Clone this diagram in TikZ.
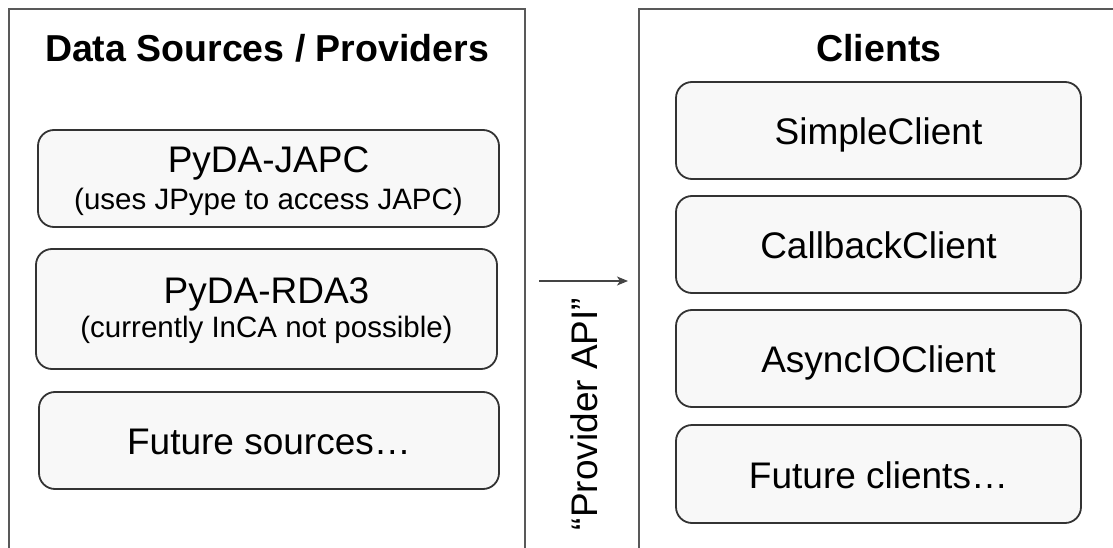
\documentclass[tikz,border=0pt]{standalone}
\usepackage{fontspec}
\setmainfont{Liberation Sans}
\usetikzlibrary{arrows.meta}
\definecolor{boxfill}{HTML}{F8F8F8}
\definecolor{boxline}{HTML}{333333}
\definecolor{frameline}{HTML}{595959}
\definecolor{arrowcol}{HTML}{444444}
\tikzset{
  frame/.style={draw=frameline, line width=1.5pt},
  item/.style={draw=boxline, fill=boxfill, line width=1.8pt, rounded corners=16pt, inner sep=0pt},
  itemone/.style={item, font=\fontsize{37}{37}\selectfont, text height=28pt, text depth=0pt},
  titletext/.style={font=\fontsize{37.5}{40}\selectfont\bfseries, inner sep=0pt, anchor=base},
  maintext/.style={font=\fontsize{37}{37}\selectfont, inner sep=0pt, anchor=base},
  subtext/.style={font=\fontsize{29.5}{30}\selectfont, inner sep=0pt, anchor=base},
  apiarrow/.style={draw=arrowcol, line width=1.5pt, -{Stealth[length=11pt,width=9pt,inset=3pt]}}
}
\begin{document}
\begin{tikzpicture}[x=1pt,y=-1pt]
\useasboundingbox (0,0) rectangle (1113,548);
% outer frames (open at the picture's edges)
\draw[frame] (9,560) -- (9,9) -- (525,9) -- (525,560);
\draw[frame] (639,560) -- (639,9) -- (1120,9);
% titles
\node[titletext] (ltitle) at (267,62) {Data Sources / Providers};
\node[titletext] (rtitle) at (879,62) {Clients};
% providers
\node[item, minimum width=461pt, minimum height=97pt] (japc) at (268.5,178.5) {};
\node[maintext] (japcA) at (268.5,173) {PyDA-JAPC};
\node[subtext] (japcB) at (268.5,210) {(uses JPype to access JAPC)};
\node[item, minimum width=461pt, minimum height=120pt] (rda) at (266.5,309) {};
\node[maintext] (rdaA) at (266.5,303) {PyDA-RDA3};
\node[subtext] (rdaB) at (266.5,337) {(currently InCA not possible)};
\node[itemone, minimum width=460pt, minimum height=97pt] (fsrc) at (269,440.5) {Future sources…};
% clients
\node[itemone, minimum width=405pt, minimum height=97pt] (simple) at (878.5,130.5) {SimpleClient};
\node[itemone, minimum width=405pt, minimum height=97pt] (callback) at (878.5,244.5) {CallbackClient};
\node[itemone, minimum width=405pt, minimum height=97pt] (async) at (878.5,358.5) {AsyncIOClient};
\node[itemone, minimum width=405pt, minimum height=98pt] (fcli) at (878.5,474) {Future clients…};
% provider API arrow
\coordinate (astart) at (539,281);
\coordinate (aend) at (628,281);
\draw[apiarrow] (astart) -- (aend);
\node[maintext, rotate=90] (api) at (597,414) {“Provider API”};
\end{tikzpicture}
\end{document}
